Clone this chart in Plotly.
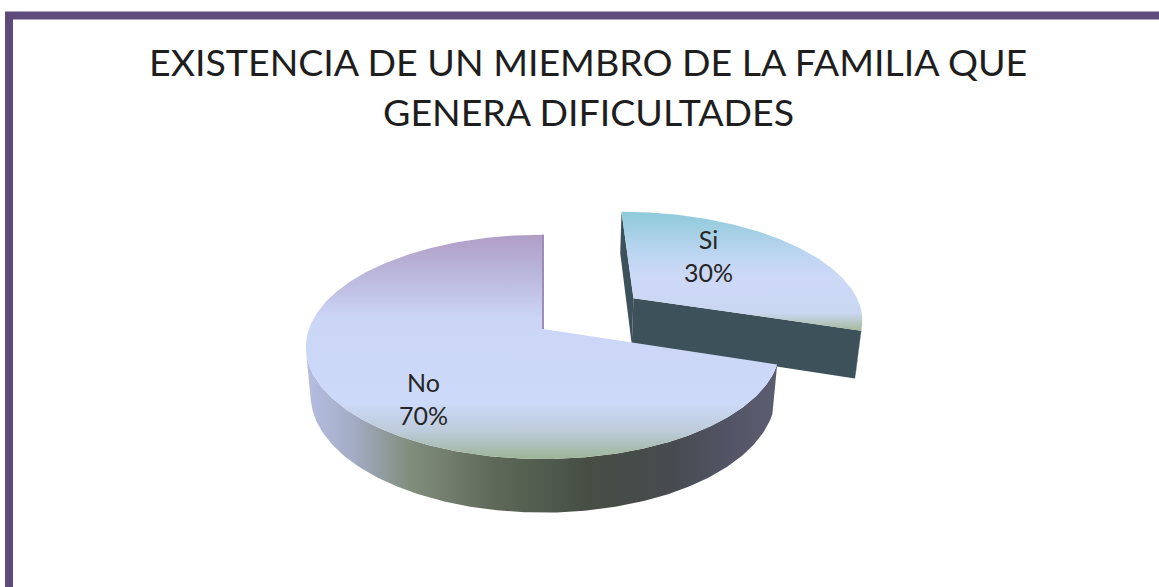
import numpy as np
import plotly.graph_objects as go

# ---------------- data ----------------
categories = ["Si", "No"]
values = [30, 70]
title_lines = ["EXISTENCIA DE UN MIEMBRO DE LA FAMILIA QUE", "GENERA DIFICULTADES"]

# ---------------- layout / style ----------------
W, H = 1159, 587
CAM = dict(cx=543.0, cy=329.0, f=1300.0, sin_phi=0.467, dist=5.553, depth=0.235)
PULL = {"Si": 0.5, "No": 0.0}
LABEL_XY = {"Si": (708, 255), "No": (423, 398)}
STYLE = {
    "Si": dict(
        top=[[0, "#8dcada"], [0.35, "#bcd5f0"], [0.55, "#cdd9f7"], [0.85, "#cad7f2"], [1, "#a4b99c"]],
        wall="#3c5159", cut="#3c5159"),
    "No": dict(
        top=[[0, "#b09dc5"], [0.15, "#b9b3d8"], [0.38, "#cbd6f6"], [0.75, "#cdd9f8"],
             [0.88, "#bccbd9"], [1, "#9db497"]],
        wall=[[0, "#b5bee2"], [0.1, "#a3acc4"], [0.22, "#818d7d"], [0.4, "#5e6959"],
              [0.6, "#464e44"], [0.78, "#474b4f"], [0.9, "#535566"], [1, "#5b5e71"]],
        cut="#9d8db9"),
}
BORDER = "#5f4b7b"

s = CAM["sin_phi"]
c = np.sqrt(1 - s * s)
D = CAM["dist"]
h = CAM["depth"]


def project(x, y, z):
    yc = s * y + c * z
    zc = c * y - s * z + D
    return CAM["cx"] + CAM["f"] * x / zc, CAM["cy"] - CAM["f"] * yc / zc


total = float(sum(values))
bounds = np.concatenate([[0.0], np.cumsum(values)]) / total * 2 * np.pi


def poly_trace(xs, ys, fill, orient):
    kw = dict(x=list(xs), y=list(ys), mode="lines", fill="toself",
              line=dict(width=0), hoverinfo="skip", showlegend=False)
    if isinstance(fill, str):
        kw["fillcolor"] = fill
    else:
        vals = np.array(ys if orient == "vertical" else xs)
        kw["fillcolor"] = fill[len(fill) // 2][1]
        kw["fillgradient"] = dict(type=orient, colorscale=fill,
                                  start=float(vals.min()), stop=float(vals.max()))
    return go.Scatter(**kw)


slices = []
for i, cat in enumerate(categories):
    a0, a1 = bounds[i], bounds[i + 1]
    mid = (a0 + a1) / 2
    e = PULL[cat]
    ox, oy = e * np.sin(mid), e * np.cos(mid)
    th = np.linspace(a0, a1, 300)
    traces = []
    # outer wall (visible part)
    vis = -D * c * np.cos(th) - ox * np.sin(th) - oy * np.cos(th) - 1 > 0
    if vis.any():
        tv = th[vis]
        xt, yt = project(ox + np.sin(tv), oy + np.cos(tv), 0 * tv)
        xb, yb = project(ox + np.sin(tv), oy + np.cos(tv), 0 * tv - h)
        traces.append(poly_trace(np.concatenate([xt, xb[::-1]]),
                                 np.concatenate([yt, yb[::-1]]),
                                 STYLE[cat]["wall"], "horizontal"))
    # cut faces
    for beta, gamma in ((a0, a0 - np.pi / 2), (a1, a1 + np.pi / 2)):
        v = -D * c * np.cos(gamma) - ox * np.sin(gamma) - oy * np.cos(gamma)
        if v > 1e-3:
            px = np.array([ox, ox + np.sin(beta), ox + np.sin(beta), ox])
            py = np.array([oy, oy + np.cos(beta), oy + np.cos(beta), oy])
            pz = np.array([0, 0, -h, -h])
            X, Y = project(px, py, pz)
            traces.append(poly_trace(X, Y, STYLE[cat]["cut"], "horizontal"))
    # top face
    X, Y = project(np.concatenate([[ox], ox + np.sin(th)]),
                   np.concatenate([[oy], oy + np.cos(th)]), np.zeros(len(th) + 1))
    traces.append(poly_trace(X, Y, STYLE[cat]["top"], "vertical"))
    # edge line of slice end (thin sliver)
    if e == 0:
        ex, ey = project(np.array([0, np.sin(a1)]), np.array([0, np.cos(a1)]), np.zeros(2))
        traces.append(go.Scatter(x=list(ex), y=list(ey), mode="lines",
                                 line=dict(color=STYLE[cat]["cut"], width=2),
                                 hoverinfo="skip", showlegend=False))
    zc_mid = c * oy + D + c * np.cos(mid) * 0.5
    slices.append((zc_mid, traces))

fig = go.Figure()
for _, trs in sorted(slices, key=lambda t: -t[0]):
    for t in trs:
        fig.add_trace(t)

annotations = []
for cat, v in zip(categories, values):
    lx, ly = LABEL_XY[cat]
    annotations.append(dict(x=lx, y=ly, xref="x", yref="y", showarrow=False,
                            text=f"{cat}<br>{v / total * 100:.0f}%",
                            font=dict(family="Lato", size=25, color="#262626"),
                            align="center"))
for k, line in enumerate(title_lines):
    annotations.append(dict(x=588, y=61 + 50 * k, xref="x", yref="y", showarrow=False,
                            text=line, font=dict(family="Lato", size=37.5, color="#1e1e1e")))

fig.update_layout(
    width=W, height=H, margin=dict(l=0, r=0, t=0, b=0),
    paper_bgcolor="white", plot_bgcolor="white",
    xaxis=dict(range=[0, W], visible=False, fixedrange=True),
    yaxis=dict(range=[H, 0], visible=False, fixedrange=True),
    annotations=annotations,
    shapes=[dict(type="rect", xref="x", yref="y", x0=9, y0=15.5, x1=W + 40, y1=H + 40,
                 line=dict(color=BORDER, width=8), fillcolor="rgba(0,0,0,0)")],
)

fig.write_html("out.html", config={"displayModeBar": False},
               post_script="document.body.style.margin='0';document.body.style.overflow='hidden';")
